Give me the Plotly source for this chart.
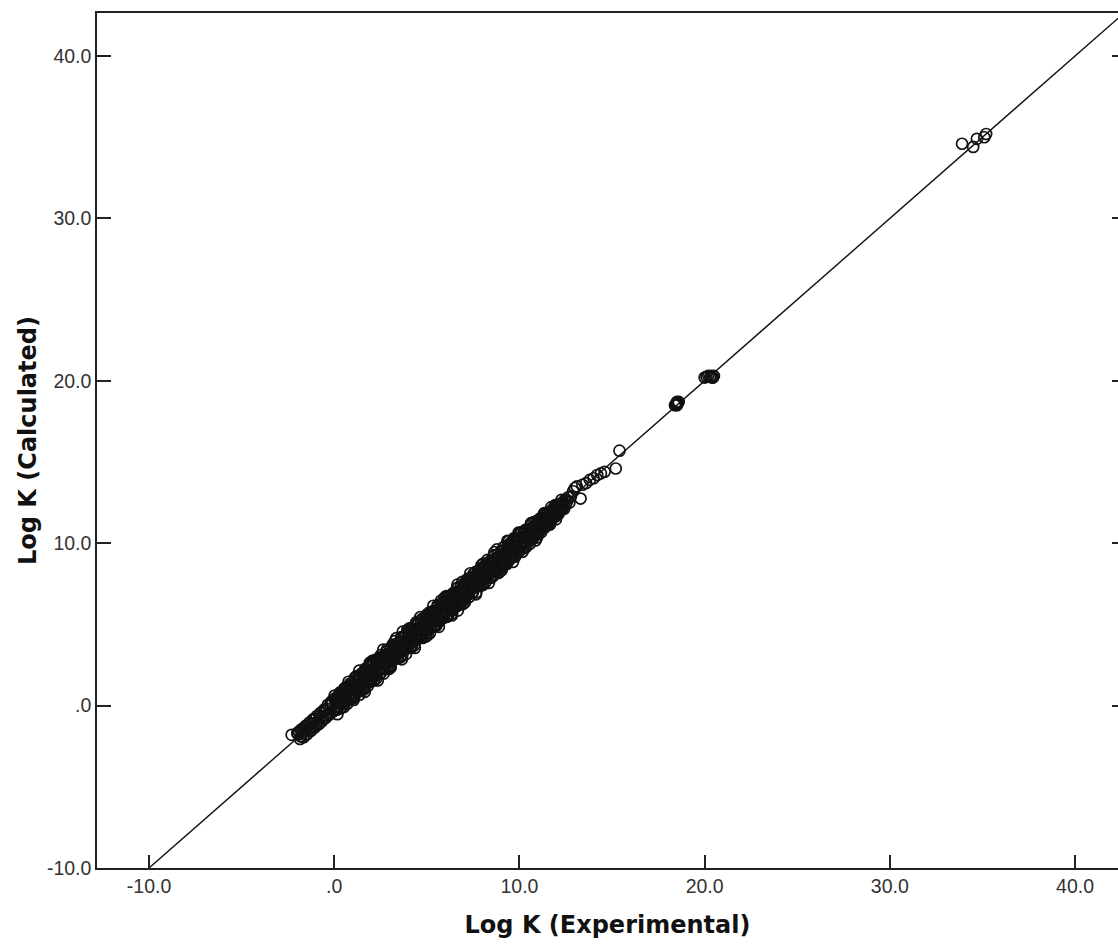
import plotly.graph_objects as go

# ---- data ----
exp_low = [-2.3,-2.0,-1.9,-1.8,-1.8,-1.7,-1.6,-1.6,-1.5,-1.4,
           -1.4,-1.3,-1.2,-1.2,-1.1,-1.0,-1.0,-0.9,-0.8,-0.8,
           -0.7,-0.6,-0.6,-0.5,-0.4,-0.4,-0.3,-0.2,-0.2,-0.1,
           0.0,0.0,0.1,0.1,0.2,
           -1.95,-1.85,-1.75,-1.65,-1.55,-1.45,-1.35,-1.25,-1.15,-1.05,
           -0.95,-0.85,-0.75,-0.65,-0.55,-0.45,-0.35,-0.25,-0.15,-0.05]
calc_low = [-1.8,-1.7,-1.6,-1.9,-1.5,-1.7,-1.4,-1.8,-1.3,-1.5,
            -1.2,-1.4,-1.1,-1.3,-0.9,-1.2,-0.8,-1.0,-0.6,-1.1,
            -0.7,-0.4,-0.8,-0.3,-0.6,-0.2,-0.5,0.1,-0.4,0.2,
            0.4,-0.3,0.3,-0.1,0.5,
            -1.75,-2.05,-1.45,-1.95,-1.25,-1.75,-1.05,-1.55,-0.85,-1.35,
            -0.65,-1.15,-0.45,-0.95,-0.25,-0.75,0.05,-0.55,0.25,-0.35]

exp_b = [0.22,0.25,0.31,0.34,0.38,0.43,0.46,0.52,0.55,0.60,
         0.64,0.69,0.71,0.77,0.80,0.86,0.89,0.93,0.98,1.02,
         1.07,1.10,1.15,1.19,1.22,1.28,1.31,1.36,1.40,1.44,
         1.48,1.53,1.56,1.61,1.64,1.70,1.73,1.78,1.81,1.85,
         1.90,1.94,1.97,2.03,2.06,2.11,2.14,2.19,2.23,2.27,
         2.31,2.35,2.40,2.43,2.48,2.52,2.55,2.61,2.64,2.68,
         2.73,2.76,2.81,2.85,2.89,2.93,2.97,3.02,3.05,3.10,
         3.13,3.18,3.22,3.26,3.30,3.34,3.39,3.42,3.47,3.50,
         3.55,3.59,3.62,3.67,3.70,3.75,3.79,3.83,3.87,3.91,
         3.95,3.99,4.03,4.07,4.11,4.15,4.19,4.23,4.27,4.31,
         4.35,4.39,4.43,4.47,4.51,4.55,4.59,4.63,4.67,4.71,
         4.75,4.79,4.83,4.87,4.91,4.95,4.99,5.03,5.07,5.11]
calc_b = [0.52,-0.05,0.41,-0.16,0.78,0.33,0.66,0.12,1.05,0.60,
          0.44,1.09,0.11,0.97,0.70,1.36,0.59,1.03,0.58,1.32,
          1.07,0.60,1.55,0.99,1.82,0.98,1.51,1.26,1.70,1.04,
          1.98,1.43,1.76,1.01,1.74,2.00,1.33,2.18,1.61,1.85,
          1.60,2.14,1.47,2.43,1.96,2.71,1.94,2.29,1.83,2.57,
          2.41,2.05,2.90,2.23,2.68,2.02,2.95,2.61,2.54,2.98,
          2.33,2.96,2.61,3.45,2.59,3.03,2.37,3.42,2.95,3.30,
          2.93,3.68,3.22,2.86,3.60,3.24,3.59,2.92,3.87,3.20,
          3.65,3.39,3.92,3.07,4.55,3.65,4.19,3.53,4.07,3.91,
          3.55,4.29,3.93,4.57,3.81,4.35,3.69,4.33,4.67,4.11,
          4.65,4.09,5.03,4.37,4.71,4.15,4.69,4.43,5.07,4.71,
          4.25,4.99,4.63,5.37,4.61,5.25,4.89,5.43,4.67,5.21]

exp_c = [5.15,5.19,5.23,5.27,5.31,5.35,5.39,5.43,5.47,5.51,
         5.55,5.59,5.63,5.67,5.71,5.75,5.79,5.83,5.87,5.91,
         5.95,5.99,6.03,6.07,6.11,6.15,6.19,6.23,6.27,6.31,
         6.35,6.39,6.43,6.47,6.51,6.55,6.59,6.63,6.67,6.71,
         6.75,6.79,6.83,6.87,6.91,6.95,6.99,7.03,7.07,7.11,
         7.15,7.19,7.23,7.27,7.31,7.35,7.39,7.43,7.47,7.51,
         7.55,7.59,7.63,7.67,7.71,7.75,7.79,7.83,7.87,7.91,
         7.95,7.99,8.03,8.07,8.11,8.15,8.19,8.23,8.27,8.31,
         8.35,8.39,8.43,8.47,8.51,8.55,8.59,8.63,8.67,8.71,
         8.75,8.79,8.83,8.87,8.91,8.95,8.99,9.03,9.07,9.11,
         9.15,9.19,9.23,9.27,9.31,9.35,9.39,9.43,9.47,9.51,
         9.55,9.59,9.63,9.67,9.71,9.75,9.79,9.83,9.87,9.91]
calc_c = [5.35,4.79,5.73,5.17,5.61,4.85,5.39,5.83,5.27,5.61,
          5.25,6.19,5.53,5.87,5.21,6.05,5.59,6.33,5.87,5.51,
          6.35,5.79,6.13,5.47,6.41,6.15,6.69,5.93,6.47,6.21,
          5.85,6.69,6.23,6.87,6.41,6.75,6.19,7.23,5.85,6.81,
          6.95,6.49,7.33,6.77,7.21,6.45,7.09,6.83,7.47,7.11,
          6.75,7.39,7.13,7.77,7.01,7.65,7.19,7.53,6.97,7.91,
          7.55,7.29,8.23,7.57,7.91,7.35,8.09,7.63,8.37,7.81,
          8.25,7.49,8.13,8.47,7.91,8.35,7.79,8.23,8.77,8.01,
          8.45,8.19,8.83,7.87,8.81,8.45,8.79,8.23,9.27,8.71,
          8.45,9.62,8.73,9.17,8.41,9.15,8.79,9.53,8.67,9.21,
          9.55,8.89,9.33,8.77,9.61,9.35,9.89,9.23,9.67,9.11,
          9.75,9.49,10.13,9.37,9.81,9.25,10.19,9.83,9.67,10.21]

exp_d = [9.95,10.00,10.04,10.09,10.13,10.18,10.22,10.27,10.31,10.36,
         10.40,10.45,10.49,10.54,10.58,10.63,10.67,10.72,10.76,10.81,
         10.85,10.90,10.94,10.99,11.03,11.08,11.12,11.17,11.21,11.26,
         11.30,11.35,11.39,11.44,11.48,11.53,11.57,11.62,11.66,11.71,
         11.75,11.80,11.84,11.89,11.93,11.98,12.02,12.07,12.11,12.16,
         12.20,12.25,12.31,12.38,12.44,12.50,12.57,12.63,12.70,12.78]
calc_d = [9.55,10.30,9.94,10.59,9.93,10.38,9.72,10.37,10.71,10.06,
          10.50,10.25,10.89,10.14,10.78,10.63,11.17,10.42,10.86,10.71,
          11.15,10.50,11.14,10.89,11.43,10.78,11.22,10.97,11.51,11.26,
          11.00,11.55,11.29,11.84,11.28,11.63,11.87,11.32,11.86,11.61,
          11.95,11.60,12.14,11.79,12.03,11.68,12.22,12.07,11.91,12.36,
          12.10,12.45,12.11,12.48,12.64,12.40,12.57,12.83,12.50,12.88]

exp_e = [0.02,0.07,0.12,0.17,0.22,0.27,0.32,0.37,0.42,0.47,
         0.52,0.57,0.62,0.67,0.72,0.77,0.82,0.87,0.92,0.97,
         1.02,1.07,1.12,1.17,1.22,1.27,1.32,1.37,1.42,1.47,
         1.52,1.57,1.62,1.67,1.72,1.77,1.82,1.87,1.92,1.97,
         2.02,2.07,2.12,2.17,2.22,2.27,2.32,2.37,2.42,2.47,
         2.52,2.57,2.62,2.67,2.72,2.77,2.82,2.87,2.92,2.97,
         3.02,3.07,3.12,3.17,3.22,3.27,3.32,3.37,3.42,3.47,
         3.52,3.57,3.62,3.67,3.72,3.77,3.82,3.87,3.92,3.97,
         4.02,4.07,4.12,4.17,4.22,4.27,4.32,4.37,4.42,4.47,
         4.52,4.57,4.62,4.67,4.72,4.77,4.82,4.87,4.92,4.97,
         5.02,5.07,5.12,5.17,5.22,5.27,5.32,5.37,5.42,5.47,
         5.52,5.57,5.62,5.67,5.72,5.77,5.82,5.87,5.92,5.97,
         6.02,6.07,6.12,6.17,6.22,6.27,6.32,6.37,6.42,6.47,
         6.52,6.57,6.62,6.67,6.72,6.77,6.82,6.87,6.92,6.97,
         7.02,7.07,7.12,7.17,7.22,7.27,7.32,7.37,7.42,7.47,
         7.52,7.57,7.62,7.67,7.72,7.77,7.82,7.87,7.92,7.97,
         8.02,8.07,8.12,8.17,8.22,8.27,8.32,8.37,8.42,8.47,
         8.52,8.57,8.62,8.67,8.72,8.77,8.82,8.87,8.92,8.97,
         9.02,9.07,9.12,9.17,9.22,9.27,9.32,9.37,9.42,9.47,
         9.52,9.57,9.62,9.67,9.72,9.77,9.82,9.87,9.92,9.97,
         10.02,10.07,10.12,10.17,10.22,10.27,10.32,10.37,10.42,10.47,
         10.52,10.57,10.62,10.67,10.72,10.77,10.82,10.87,10.92,10.97,
         11.02,11.07,11.12,11.17,11.22,11.27,11.32,11.37,11.42,11.47,
         11.52,11.57,11.62,11.67,11.72,11.77,11.82,11.87,11.92,11.97,
         12.02,12.07,12.12,12.17,12.22,12.27,12.32,12.37,12.42,12.47]
calc_e = [0.62,-0.23,0.32,-0.53,0.62,0.17,0.82,-0.13,0.52,0.27,
          -0.08,1.07,0.42,0.97,0.32,1.47,0.72,1.07,0.42,1.37,
          1.32,0.47,1.72,0.97,1.22,0.87,1.82,0.67,1.62,1.47,
          1.42,1.97,1.12,2.27,1.42,1.97,1.22,2.17,2.62,1.57,
          2.52,1.67,2.22,1.87,2.82,1.67,2.52,2.77,2.22,1.97,
          3.12,2.27,2.82,1.97,3.12,2.67,3.32,2.37,3.02,2.77,
          2.42,3.57,2.92,3.47,2.82,3.97,3.22,3.57,2.92,3.87,
          3.82,2.97,4.22,3.47,3.72,3.37,4.32,3.17,4.12,3.97,
          3.92,4.47,3.62,4.77,3.92,4.47,3.72,4.67,5.12,4.07,
          5.02,4.17,4.72,4.37,5.32,4.17,5.02,5.27,4.72,4.47,
          5.62,4.77,5.32,4.47,5.62,5.17,5.82,4.87,5.52,5.27,
          4.92,6.07,5.42,5.97,5.32,6.47,5.72,6.07,5.42,6.37,
          6.32,5.47,6.72,5.97,6.22,5.87,6.82,5.67,6.62,6.47,
          6.42,6.97,6.12,7.27,6.42,6.97,6.22,7.17,7.62,6.57,
          7.52,6.67,7.22,6.87,7.82,6.67,7.52,7.77,7.22,6.97,
          8.12,7.27,7.82,6.97,8.12,7.67,8.32,7.37,8.02,7.77,
          7.42,8.57,7.92,8.47,7.82,8.97,8.22,8.57,7.92,8.87,
          8.82,7.97,9.22,8.47,8.72,8.37,9.32,8.17,9.12,8.97,
          8.92,9.47,8.62,9.77,8.92,9.47,8.72,9.67,10.12,9.07,
          10.02,9.17,9.72,9.37,10.32,9.17,10.02,10.27,9.72,9.47,
          10.62,9.77,10.32,9.47,10.62,10.17,10.82,9.87,10.52,10.27,
          10.82,9.97,11.22,10.47,10.72,10.37,11.32,10.17,11.12,10.97,
          11.42,10.77,11.32,10.67,11.52,11.17,11.82,10.97,11.52,11.27,
          11.82,11.17,11.72,11.47,12.22,11.47,12.02,11.77,12.32,11.47,
          11.82,12.37,11.82,12.37,12.12,12.67,12.12,12.47,12.12,12.67]

exp_f = [0.05,0.15,0.25,0.35,0.45,0.55,0.65,0.75,0.85,0.95,
         1.05,1.15,1.25,1.35,1.45,1.55,1.65,1.75,1.85,1.95,
         2.05,2.15,2.25,2.35,2.45,2.55,2.65,2.75,2.85,2.95,
         3.05,3.15,3.25,3.35,3.45,3.55,3.65,3.75,3.85,3.95,
         4.05,4.15,4.25,4.35,4.45,4.55,4.65,4.75,4.85,4.95,
         5.05,5.15,5.25,5.35,5.45,5.55,5.65,5.75,5.85,5.95,
         6.05,6.15,6.25,6.35,6.45,6.55,6.65,6.75,6.85,6.95,
         7.05,7.15,7.25,7.35,7.45,7.55,7.65,7.75,7.85,7.95,
         8.05,8.15,8.25,8.35,8.45,8.55,8.65,8.75,8.85,8.95,
         9.05,9.15,9.25,9.35,9.45,9.55,9.65,9.75,9.85,9.95,
         10.05,10.15,10.25,10.35,10.45,10.55,10.65,10.75,10.85,10.95,
         11.05,11.15,11.25,11.35,11.45,11.55,11.65,11.75,11.85,11.95]
calc_f = [0.45,-0.25,0.55,-0.15,0.75,0.35,1.15,0.45,1.05,0.55,
          0.35,1.75,0.85,2.15,0.95,1.85,0.85,2.25,1.55,2.65,
          2.75,1.55,2.65,1.55,2.95,2.25,3.45,2.25,3.15,2.25,
          2.35,3.75,2.85,4.15,2.95,3.85,2.85,4.25,3.55,4.65,
          4.75,3.55,4.65,3.55,4.95,4.25,5.45,4.25,5.15,4.25,
          4.35,5.75,4.85,6.15,4.95,5.85,4.85,6.25,5.55,6.65,
          6.75,5.55,6.65,5.55,6.95,6.25,7.45,6.25,7.15,6.25,
          6.35,7.75,6.85,8.15,6.95,7.85,6.85,8.25,7.55,8.65,
          8.75,7.55,8.65,7.55,8.95,8.25,9.45,8.25,9.15,8.25,
          8.35,9.75,8.85,10.15,8.95,9.85,8.85,10.25,9.55,10.65,
          10.65,9.65,10.55,9.75,10.85,10.35,11.25,10.35,11.05,10.35,
          10.65,11.55,11.05,11.85,11.15,11.75,11.15,12.05,11.65,12.35]

exp_high = [12.9,13.0,13.1,13.3,13.4,13.6,13.8,14.0,14.2,14.4,14.6,15.2,15.4,
            18.4,18.5,18.6,18.5,18.45,18.55,18.5,
            20.0,20.2,20.4,20.5,20.3,20.1,20.35,20.45,
            33.9,34.5,34.7,35.1,35.2]
calc_high = [13.2,13.4,13.5,12.75,13.6,13.7,13.9,14.0,14.2,14.3,14.4,14.6,15.7,
             18.5,18.6,18.7,18.5,18.55,18.65,18.7,
             20.2,20.3,20.2,20.3,20.25,20.25,20.3,20.2,
             34.6,34.4,34.9,35.0,35.2]

log_k_experimental = exp_low + exp_b + exp_c + exp_d + exp_e + exp_f + exp_high
log_k_calculated = calc_low + calc_b + calc_c + calc_d + calc_e + calc_f + calc_high

ref_line = [-10.0, 45.0]

tick_vals = [-10, 0, 10, 20, 30, 40]
tick_text = ["-10.0", ".0", "10.0", "20.0", "30.0", "40.0"]

INK = "#222222"
FONT = "Liberation Sans, Arial, sans-serif"
TITLE_FONT = "DejaVu Sans, Verdana, sans-serif"

fig = go.Figure()
fig.add_trace(go.Scatter(
    x=ref_line, y=ref_line, mode="lines",
    line=dict(color="#111111", width=1.4),
    showlegend=False, hoverinfo="skip"))
fig.add_trace(go.Scatter(
    x=log_k_experimental, y=log_k_calculated, mode="markers",
    marker=dict(symbol="circle-open", size=11, color="#111111",
                line=dict(width=1.7, color="#111111")),
    showlegend=False))
# empty trace for the right-hand tick axis
fig.add_trace(go.Scatter(x=[None], y=[None], yaxis="y2", showlegend=False,
                         hoverinfo="skip"))

fig.update_layout(
    width=1118, height=949,
    margin=dict(l=97, r=0, t=13, b=81),
    paper_bgcolor="white", plot_bgcolor="white",
    font=dict(family=FONT, color=INK),
    xaxis=dict(
        range=[-12.81, 42.32], tickvals=tick_vals, ticktext=tick_text,
        ticks="inside", ticklen=13, tickwidth=1.5, tickcolor=INK,
        showline=True, linecolor=INK, linewidth=1.5, mirror=True,
        showgrid=False, zeroline=False,
        tickfont=dict(size=19.5, color="#333333", family=FONT),
        title=dict(text="<b>Log K (Experimental)</b>",
                   font=dict(size=24, color="#111111", family=TITLE_FONT),
                   standoff=20),
    ),
    yaxis=dict(
        range=[-10, 42.65], tickvals=tick_vals, ticktext=tick_text,
        ticks="inside", ticklen=14, tickwidth=1.5, tickcolor=INK,
        showline=True, linecolor=INK, linewidth=1.5, mirror=False,
        showgrid=False, zeroline=False,
        tickfont=dict(size=19.5, color="#333333", family=FONT),
        title=dict(text="<b>Log K (Calculated)</b>",
                   font=dict(size=24, color="#111111", family=TITLE_FONT),
                   standoff=3),
    ),
    yaxis2=dict(
        overlaying="y", side="right", matches="y",
        tickvals=tick_vals, ticks="inside", ticklen=6, tickwidth=1.5,
        tickcolor=INK, showticklabels=False, showline=False,
        showgrid=False, zeroline=False,
    ),
)

fig.write_html("out.html",
               config={"displayModeBar": False},
               post_script="document.body.style.margin='0';"
                           "document.body.style.overflow='hidden';")
